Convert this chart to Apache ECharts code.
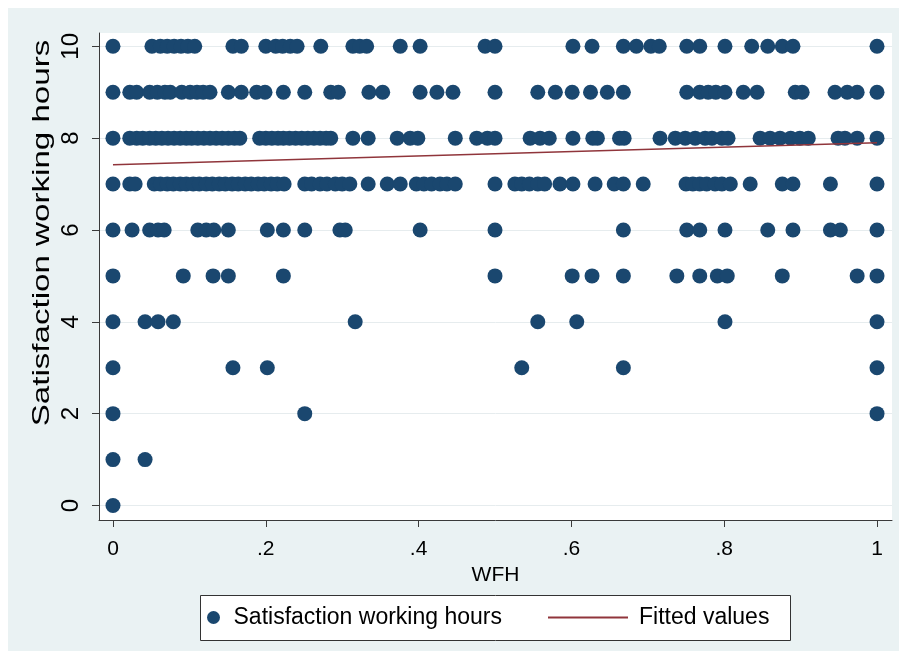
<!DOCTYPE html>
<html>
<head>
<meta charset="utf-8">
<script src="https://cdn.jsdelivr.net/npm/echarts@6/dist/echarts.min.js"></script>
<style>
  html, body { margin: 0; padding: 0; background: #ffffff; }
  #chart { width: 906px; height: 661px; }
</style>
</head>
<body>
<div id="chart"></div>
<script>
// Share of work done from home (WFH) for respondents at each satisfaction level
const wfhSat10 = [0, .051, .062, .071, .080, .089, .098, .107, .157, .168, .200, .213, .222, .232, .241, .272, .314, .323, .332, .376, .402, .487, .500, .602, .627, .668, .685, .704, .715, .751, .768, .801, .836, .857, .876, .890, 1];
const wfhSat9 = [0, .022, .031, .048, .058, .068, .075, .090, .101, .110, .118, .127, .151, .168, .188, .199, .223, .251, .285, .295, .335, .353, .402, .424, .445, .500, .556, .579, .601, .625, .647, .668, .751, .768, .779, .789, .801, .825, .843, .893, .902, .945, .961, .974, 1];
const wfhSat8 = [0, .022, .031, .039, .048, .056, .064, .072, .080, .088, .096, .103, .111, .119, .127, .135, .143, .151, .159, .166, .192, .200, .208, .216, .223, .231, .239, .247, .255, .263, .271, .279, .285, .314, .334, .372, .389, .399, .448, .476, .490, .500, .546, .559, .571, .602, .628, .634, .663, .669, .716, .736, .749, .762, .775, .784, .797, .805, .847, .860, .873, .887, .899, .910, .949, .958, .974, 1];
const wfhSat7 = [0, .022, .029, .054, .062, .071, .079, .088, .096, .105, .113, .122, .130, .139, .147, .156, .164, .173, .181, .190, .198, .207, .215, .224, .251, .260, .271, .280, .291, .300, .310, .334, .359, .376, .397, .407, .417, .428, .437, .448, .500, .526, .535, .545, .556, .565, .585, .602, .631, .656, .668, .694, .750, .759, .768, .777, .788, .797, .808, .834, .876, .890, .939, 1];
const wfhSat6 = [0, .025, .048, .059, .067, .111, .122, .132, .151, .202, .223, .251, .297, .304, .402, .500, .668, .751, .768, .801, .857, .890, .939, .952, 1];
const wfhSat5 = [0, .092, .131, .151, .223, .500, .601, .627, .668, .738, .768, .791, .804, .876, .974, 1];
const wfhSat4 = [0, .042, .059, .079, .317, .556, .607, .801, 1];
const wfhSat3 = [0, .157, .202, .535, .668, 1];
const wfhSat2 = [0, .251, 1];
const wfhSat1 = [0, .042];
const wfhSat0 = [0];

const satLevels = [10, 9, 8, 7, 6, 5, 4, 3, 2, 1, 0];
const wfhByLevel = [wfhSat10, wfhSat9, wfhSat8, wfhSat7, wfhSat6, wfhSat5, wfhSat4, wfhSat3, wfhSat2, wfhSat1, wfhSat0];

// Linear fit of satisfaction on WFH, evaluated at the ends of the WFH range
const fittedX = [0, 1];
const fittedY = [7.42, 7.90];

const xTickValues = [0, 0.2, 0.4, 0.6, 0.8, 1];
const xTickLabels = ['0', '.2', '.4', '.6', '.8', '1'];
const yTickValues = [0, 2, 4, 6, 8, 10];
const yTickLabels = ['0', '2', '4', '6', '8', '10'];

const scatterPoints = [];
satLevels.forEach((lvl, i) => {
  wfhByLevel[i].forEach(w => scatterPoints.push([w, lvl]));
});
const fittedPoints = fittedX.map((x, i) => [x, fittedY[i]]);

const FONT = 'Liberation Sans, Arial, Helvetica, sans-serif';
const NAVY = '#1a476f';
const MAROON = '#90353b';
const AXIS = '#3a3a3a';

const chart = echarts.init(document.getElementById('chart'), null, { renderer: 'canvas' });
chart.setOption({
  backgroundColor: '#eaf2f3',
  animation: false,
  textStyle: { fontFamily: FONT },
  graphic: [
    // white margin around the graph region
    { type: 'rect', shape: { x: 0, y: 0, width: 906, height: 8 }, style: { fill: '#fff' }, silent: true },
    { type: 'rect', shape: { x: 0, y: 0, width: 8, height: 661 }, style: { fill: '#fff' }, silent: true },
    { type: 'rect', shape: { x: 899, y: 0, width: 7, height: 661 }, style: { fill: '#fff' }, silent: true },
    { type: 'rect', shape: { x: 0, y: 651, width: 906, height: 10 }, style: { fill: '#fff' }, silent: true },
    // legend frame
    { type: 'rect', z: 1, shape: { x: 200.5, y: 595.5, width: 590, height: 45 },
      style: { fill: '#fff', stroke: '#333', lineWidth: 1 }, silent: true },
    // y axis title, tall narrow lettering
    { type: 'text', x: 42, y: 233, rotation: Math.PI / 2, scaleX: 1.38, z: 5, silent: true,
      style: { text: 'Satisfaction working hours', fontSize: 24, fontFamily: FONT, fill: '#000',
               textAlign: 'center', textVerticalAlign: 'middle' } }
  ],
  grid: {
    left: 99, right: 14, top: 33, bottom: 141,
    show: true, backgroundColor: '#ffffff', borderWidth: 0
  },
  xAxis: {
    type: 'value',
    min: -0.0183, max: 1.0196,
    name: 'WFH', nameLocation: 'middle', nameGap: 35,
    nameTextStyle: { fontSize: 21, color: '#000', fontFamily: FONT },
    axisLine: { show: true, onZero: false, lineStyle: { color: AXIS, width: 1 } },
    axisTick: { show: true, length: 7, customValues: xTickValues, lineStyle: { color: AXIS } },
    axisLabel: {
      customValues: xTickValues, margin: 19, fontSize: 21, color: '#000', fontFamily: FONT,
      formatter: v => xTickLabels[xTickValues.findIndex(t => Math.abs(t - v) < 1e-9)]
    },
    splitLine: { show: false }
  },
  yAxis: {
    type: 'value',
    min: -0.316, max: 10.29,
    axisLine: { show: true, onZero: false, lineStyle: { color: AXIS, width: 1 } },
    axisTick: { show: true, length: 7, customValues: yTickValues, lineStyle: { color: AXIS } },
    axisLabel: {
      customValues: yTickValues, rotate: 90, margin: 16, fontSize: 24, color: '#000', fontFamily: FONT,
      formatter: v => yTickLabels[yTickValues.findIndex(t => Math.abs(t - v) < 1e-9)]
    },
    splitLine: { show: true, lineStyle: { color: '#e6ecee', width: 1 } }
  },
  legend: [
    {
      data: ['Satisfaction working hours'],
      left: 207, top: 606, itemWidth: 30, itemHeight: 13, itemGap: 0, padding: 0,
      textStyle: { fontSize: 23, color: '#000', fontFamily: FONT },
      selectedMode: false
    },
    {
      data: [{ name: 'Fitted values', icon: 'rect' }],
      left: 548, top: 606, itemWidth: 80, itemHeight: 2, itemGap: 0, padding: 0,
      symbolKeepAspect: false,
      itemStyle: { color: MAROON },
      textStyle: { fontSize: 23, color: '#000', fontFamily: FONT, padding: [0, 0, 0, 6] },
      selectedMode: false
    }
  ],
  series: [
    {
      name: 'Satisfaction working hours',
      type: 'scatter',
      data: scatterPoints,
      symbol: 'circle',
      symbolSize: 15,
      itemStyle: { color: NAVY, opacity: 1 },
      z: 3
    },
    {
      name: 'Fitted values',
      type: 'line',
      data: fittedPoints,
      symbol: 'none',
      lineStyle: { color: MAROON, width: 1.6 },
      itemStyle: { color: MAROON },
      z: 4
    }
  ]
});
</script>
</body>
</html>
